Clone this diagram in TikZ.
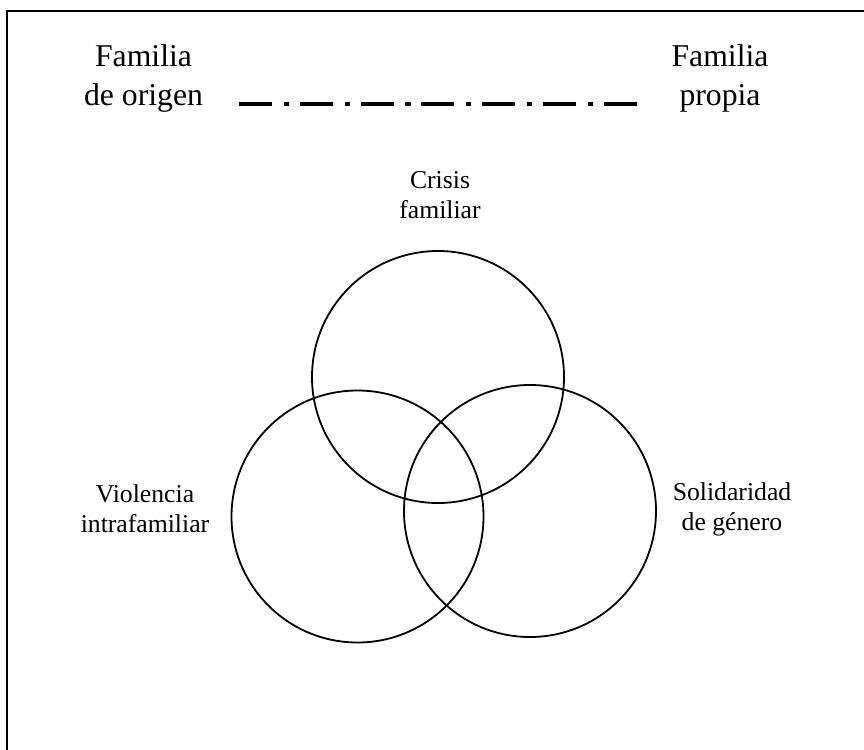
\documentclass[tikz,border=0pt]{standalone}
\usepackage{fontspec}
\setmainfont{Liberation Serif}
\begin{document}
\begin{tikzpicture}[x=1pt, y=-1pt,
  bigtext/.style={font=\fontsize{31.7}{39}\selectfont, align=center, inner sep=0pt, anchor=base},
  label/.style={font=\fontsize{25.7}{30}\selectfont, align=center, inner sep=0pt, anchor=base},
  setcircle/.style={circle, draw, line width=1.8pt, minimum size=252pt, inner sep=0pt},
  linkline/.style={line width=4.7pt, line cap=butt,
    dash pattern=on 33pt off 11.7pt on 5.3pt off 10.7pt}]
  \useasboundingbox (0,0) rectangle (864,749);
  \clip (0,0) rectangle (864,749);
  \fill[white] (0,0) rectangle (864,749);
  % outer frame, running past the right and bottom edges
  \draw[line width=1.6pt] (7,11) rectangle (900,790);

  % the two families joined by a dash-dot line (base = last line's baseline)
  \node[bigtext] (origen) at (143.5,106) {Familia\\de origen};
  \node[bigtext] (propia) at (720,106) {Familia\\propia};
  \coordinate (lineL) at (239.3,104);
  \coordinate (lineR) at (636.5,104);
  \draw[linkline] (lineL) -- (lineR);

  % three overlapping sets
  \node[setcircle] (crisis) at (438,377) {};
  \node[setcircle] (violencia) at (357.5,516.5) {};
  \node[setcircle] (solidaridad) at (530,511) {};

  \node[label] (crisisT) at (440,218) {Crisis\\familiar};
  \node[label] (violenciaT) at (145,532) {Violencia\\intrafamiliar};
  \node[label] (solidaridadT) at (732,530) {Solidaridad\\de género};
\end{tikzpicture}
\end{document}
